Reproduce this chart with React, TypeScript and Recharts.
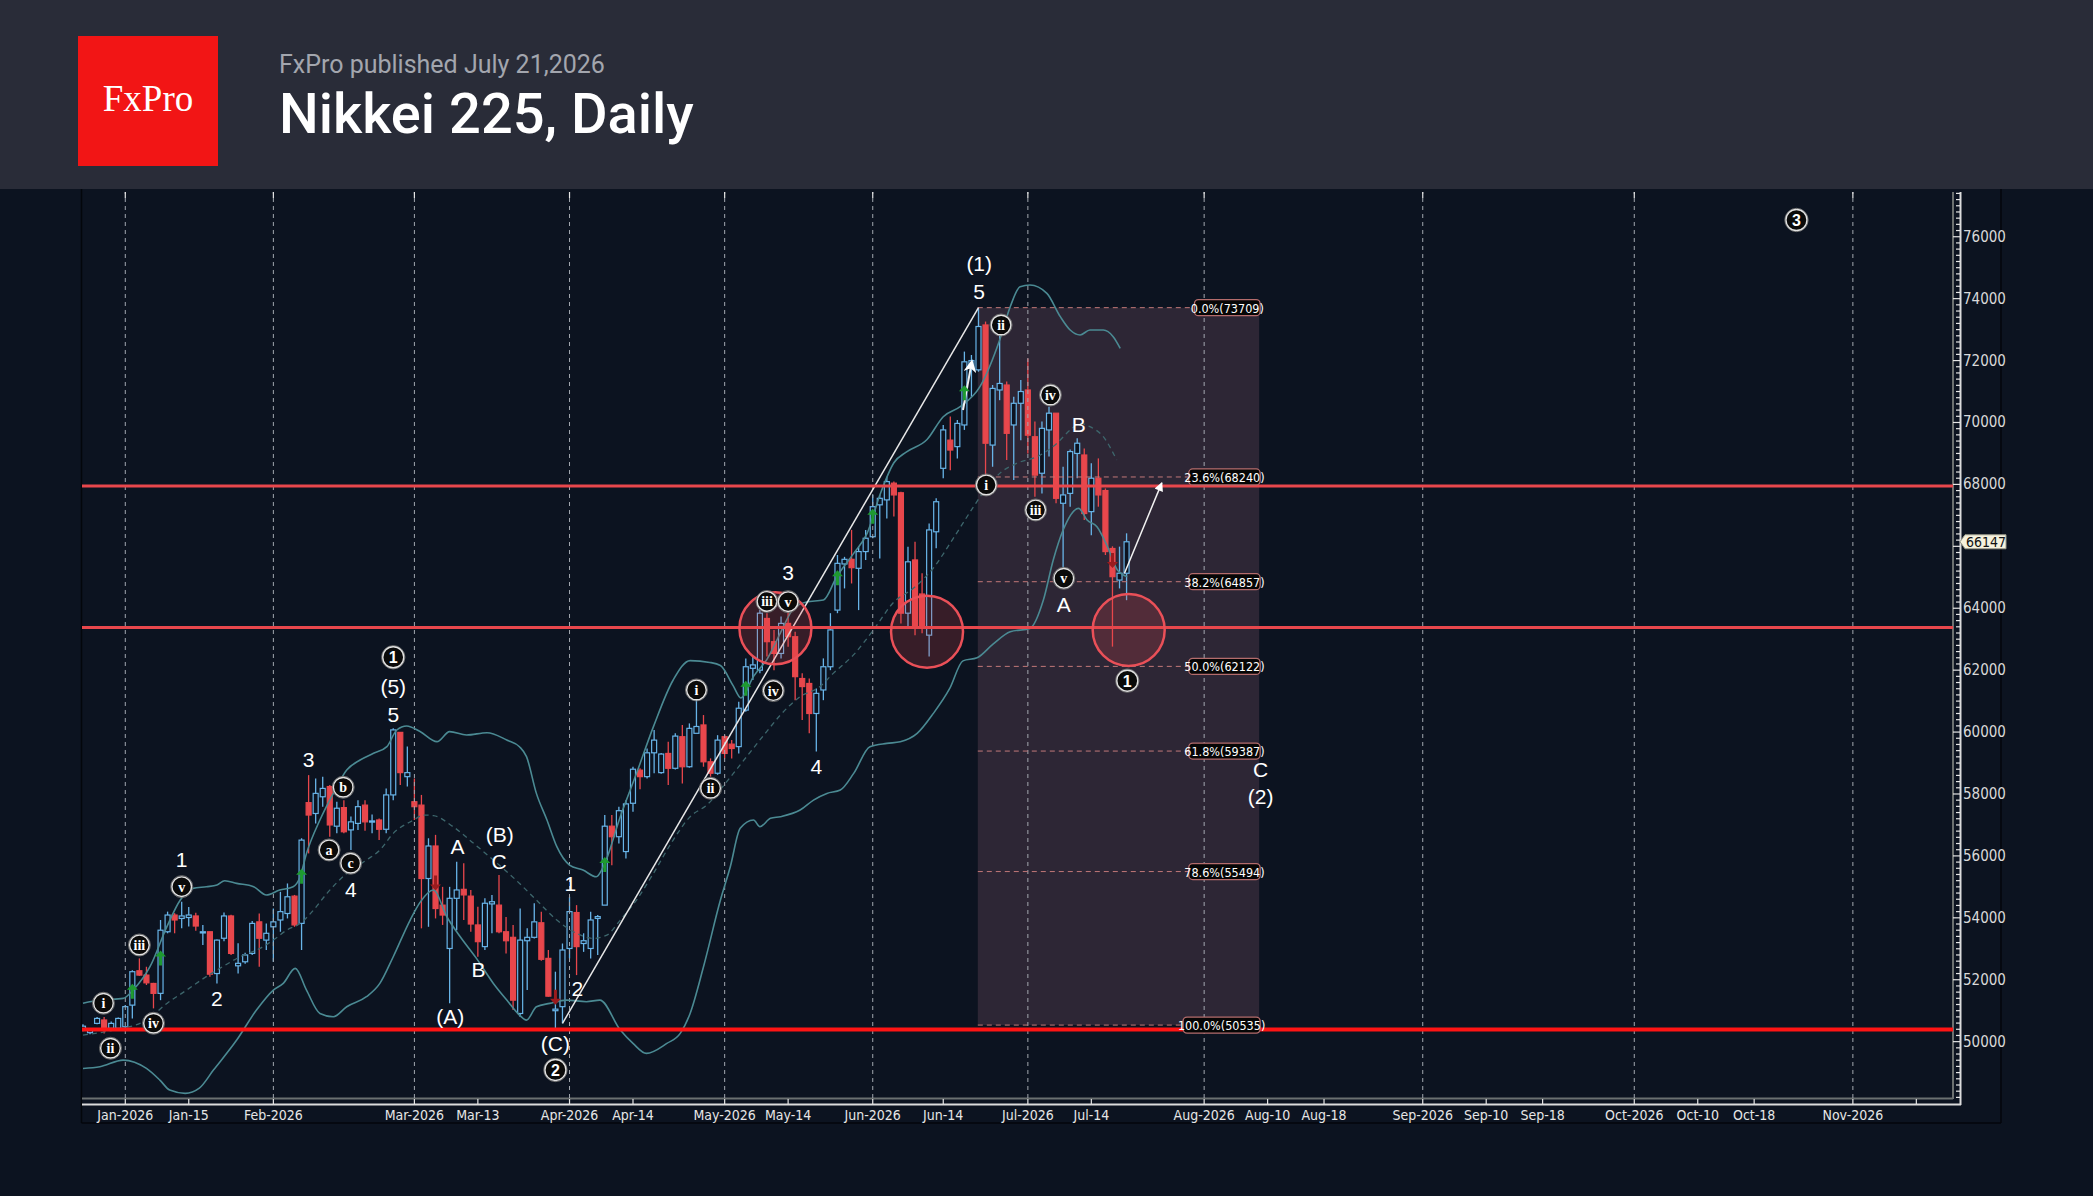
import React from 'react';
import {
  ComposedChart, Bar, Line, XAxis, YAxis, ReferenceLine, ReferenceArea, ReferenceDot, Scatter,
} from 'recharts';

// ---------- data ----------
const opens = [
  50400, 50290, 50590, 50700, 50430, 50430, 50480, 51180, 52290, 52150,
  51880, 51560, 53550, 54090, 53980, 54010, 54060, 53520, 53550, 52200,
  53340, 54060, 52450, 52580, 52850, 53870, 53280, 53710, 53930, 54140,
  54700, 53820, 57720, 57370, 57910, 58240, 56960, 57560, 56840, 57050,
  57640, 57100, 57160, 56860, 57970, 59990, 58560, 57750, 57640, 55270,
  56320, 54410, 53010, 54630, 54920, 54700, 53770, 53070, 54450, 54410,
  53550, 53370, 50910, 53260, 53370, 53840, 52690, 51000, 51130, 53010,
  54170, 53170, 53010, 53980, 54410, 56960, 56620, 56140, 57700, 58770,
  58560, 59330, 58690, 59310, 58830, 59850, 58880, 59960, 60230, 59040,
  58670, 59850, 59610, 59530, 60710, 62060, 62000, 63670, 62920, 62540,
  63510, 63080, 61730, 61570, 60600, 61360, 62110, 63940, 65430, 65580,
  65290, 65830, 66310, 67340, 67500, 68040, 67730, 63840, 65560, 64460,
  63130, 66470, 68520, 69430, 69220, 69920, 71750, 71700, 73150, 69270,
  71050, 71210, 69920, 70620, 71050, 69540, 68360, 69760, 70300, 67390,
  67710, 69000, 68950, 67120, 68200, 67800, 65930, 64910, 65130,
];
const highs = [
  50560, 50430, 50800, 50800, 50650, 50780, 51180, 52310, 52690, 52420,
  51900, 53930, 54200, 54150, 54520, 54350, 54165, 53770, 53560, 53300,
  54170, 54100, 53175, 52870, 53900, 54140, 53820, 54300, 54840, 55110,
  54740, 56570, 58610, 58500, 58560, 58290, 57750, 57800, 57270, 57800,
  57800, 57340, 57210, 58180, 60120, 60000, 59530, 58500, 57970, 56570,
  56680, 55000, 55000, 55810, 55760, 54900, 54360, 54630, 54740, 55380,
  54030, 53770, 54300, 53660, 54470, 54200, 52960, 52260, 53170, 54680,
  54410, 53500, 54200, 54090, 57320, 57320, 57590, 57800, 58880, 58830,
  59470, 60070, 59320, 59690, 59960, 60230, 60280, 61300, 60550, 59150,
  59900, 59900, 59740, 60980, 62380, 62440, 63940, 63840, 63300, 63730,
  63890, 63240, 61900, 61730, 61410, 62380, 63840, 65720, 65660, 66530,
  65990, 66530, 67660, 67660, 68250, 68090, 67760, 65990, 66150, 65130,
  66740, 67550, 69920, 70190, 70080, 72290, 72180, 73709, 73260, 71210,
  72880, 71320, 70830, 71370, 72070, 70030, 70030, 70510, 70300, 68570,
  69130, 69490, 69160, 68680, 68840, 67870, 66000, 65990, 66420,
];
const lows = [
  50340, 50240, 50560, 50260, 50380, 50400, 50450, 50750, 52120, 51830,
  51075, 51340, 53500, 53500, 53660, 53720, 53580, 53120, 52100, 51880,
  53240, 52800, 52200, 52520, 52800, 52420, 52960, 52580, 53550, 53980,
  53710, 52960, 56080, 57050, 57590, 56620, 56730, 56730, 56190, 56840,
  56810, 56730, 56510, 56730, 57800, 58290, 58240, 57160, 53660, 53710,
  53980, 53770, 51240, 53600, 53930, 53550, 52740, 52960, 53500, 53500,
  52850, 51020, 50800, 51670, 53330, 52610, 51450, 50430, 50590, 52690,
  52150, 52900, 52690, 52800, 54410, 55700, 56400, 55920, 57430, 58150,
  58500, 58670, 58650, 58290, 58790, 58340, 58850, 59960, 58880, 58560,
  58620, 59150, 59150, 59310, 60660, 61680, 61900, 62440, 62000, 62380,
  62760, 61030, 60390, 59960, 59370, 61030, 62000, 63840, 64640, 64800,
  63940, 65560, 66260, 65610, 66900, 66960, 63510, 63400, 63130, 63190,
  62440, 65940, 68200, 68460, 68840, 69760, 70830, 71640, 68300, 68570,
  70720, 68790, 68140, 69430, 69000, 67600, 67710, 68900, 67390, 65290,
  67280, 68200, 66850, 66360, 67280, 65720, 62760, 64640, 64260,
];
const closes = [
  50500, 50370, 50750, 50430, 50590, 50750, 51130, 52260, 52150, 51900,
  51560, 53600, 54090, 53930, 54060, 54090, 53735, 53550, 52180, 53280,
  54060, 52850, 52530, 52800, 53820, 53340, 53500, 53870, 54200, 54680,
  53770, 56510, 57320, 58020, 58180, 57000, 57540, 56780, 57100, 57590,
  57100, 57130, 56860, 57970, 60070, 58690, 58690, 57590, 55270, 56320,
  54300, 54090, 54630, 54900, 54740, 53800, 53230, 54470, 54520, 53550,
  53260, 51340, 53280, 53370, 53870, 52660, 51470, 51050, 52960, 54200,
  53070, 53260, 53930, 54040, 56960, 56620, 57460, 57680, 58800, 58560,
  59330, 59740, 59290, 58830, 59870, 58880, 60120, 60180, 59040, 58670,
  59740, 59310, 59470, 60770, 62110, 62170, 63840, 62920, 62540, 63510,
  63080, 61790, 61470, 60600, 61250, 62110, 63300, 65450, 65580, 65310,
  65830, 66260, 67280, 67550, 68090, 67660, 63840, 65500, 63400, 63400,
  66530, 67440, 69760, 69110, 69970, 71960, 72000, 73100, 69330, 71100,
  71260, 69650, 70620, 71000, 69590, 68300, 69810, 70300, 67550, 67660,
  69060, 69330, 67060, 68200, 67660, 65830, 65020, 65130, 66147,
];

const upperBand = [
  [0, 51240], [2.4, 51343], [5.7, 51397], [7.1, 51666], [9.5, 52420], [11.9, 53713], [13.8, 54574],
  [15.6, 54951], [17.5, 55005], [19, 55059], [20.1, 55199], [21.8, 55113], [24.2, 55005], [26, 54736],
  [27.9, 54897], [29.8, 55005], [30.8, 55328], [31.7, 56082], [33.6, 57159], [35.5, 58021], [37.4, 58775],
  [39.3, 59098], [41.2, 59313], [43.1, 59528], [44.5, 60067], [45.9, 60196], [47.8, 60020], [50.2, 59690],
  [52, 60013], [54.4, 59905], [57.3, 59980], [60.1, 59744], [61.9, 59528], [62.9, 59205], [64.3, 58020],
  [65.8, 57159], [67.2, 56297], [69, 55705], [70.9, 55543], [72.8, 55328], [73.8, 55651], [76.2, 57267],
  [78.5, 58667], [80.9, 60175], [83.7, 61682], [86.1, 62307], [88.9, 62250], [90.4, 62150], [92.2, 61500],
  [93.3, 61100], [95.1, 61800], [97, 62350], [98.9, 63200], [100.8, 64000], [102.6, 64200], [105, 64265],
  [106.9, 65019], [109.3, 65773], [111.2, 66419], [113.1, 67712], [115, 68700], [116.8, 69050], [119.7, 69450],
  [122, 70187], [124.4, 70510], [127.2, 71156], [130, 72664], [131.5, 73741], [132.9, 74387], [134.3, 74441],
  [136.7, 74172], [138.6, 73418], [140, 72987], [141.4, 72826], [142.8, 72987], [144.7, 72987], [146.1, 72772],
  [147.1, 72395],
];
const middleBand = [
  [0, 50212], [4.3, 50374], [9, 50697], [11.9, 51235], [14.7, 51666], [17.1, 52043], [19.4, 52366],
  [22.3, 52744], [25.1, 53013], [27, 53282], [28.9, 53605], [30.8, 53820], [32.7, 54251], [34.6, 54790],
  [37.4, 55436], [40.2, 55867], [42.1, 56190], [44, 56728], [46.9, 57159], [48.3, 57320], [49.7, 57300],
  [52.5, 56943], [55.4, 56405], [58.2, 55866], [61.4, 55220], [64.3, 54574], [67.2, 53928], [70, 53497],
  [72.4, 53336], [74.3, 53443], [76.2, 53928], [78.5, 54574], [80.9, 55436], [83.7, 56513], [86.1, 57267],
  [88.5, 57650], [91.3, 58400], [94.1, 59200], [96.9, 60000], [98.9, 60550], [101.7, 61142], [104.5, 61465],
  [106.4, 61896], [109.3, 62500], [112.1, 63300], [115, 64200], [117.8, 64650], [120.6, 65300], [123.4, 66250],
  [126.3, 67281], [127.7, 67750], [130, 68356], [132.4, 68680], [135.3, 68895], [138.1, 69325], [140, 69756],
  [141.4, 69972], [142.8, 69864], [144.7, 69541], [146.6, 68787],
];
const lowerBand = [
  [0, 49135], [2.4, 49189], [5.7, 49405], [9, 49135], [10.9, 48758], [12.3, 48436], [14.5, 48330],
  [16.5, 48500], [18.5, 49082], [21.8, 50051], [24.6, 51020], [27, 51666], [28.4, 51882], [30.1, 52366],
  [31.7, 51666], [33.6, 50912], [35.5, 50805], [37.4, 51128], [40.2, 51451], [42.1, 51882], [44, 52743],
  [46.4, 53928], [47.8, 54500], [49.7, 54897], [51.6, 54035], [53.5, 53389], [55.8, 52689], [58.2, 51881],
  [60.1, 51343], [61.9, 50858], [62.9, 50697], [64.3, 51128], [66.2, 51236], [68.6, 51343], [71.4, 51290],
  [73.3, 51343], [76.2, 50374], [78, 49943], [79.9, 49620], [82.8, 49943], [84.7, 50266], [86.1, 50912],
  [88, 52420], [90.4, 54574], [91.8, 55651], [93.2, 56890], [95.1, 57159], [96, 56943], [97.5, 57213],
  [98.9, 57267], [101.7, 57481], [103.6, 57804], [105.5, 58019], [107.4, 58127], [109.3, 58665], [111.6, 59527],
  [114, 59634], [115.9, 59688], [118.3, 59957], [120.6, 60604], [122.9, 61400], [124.8, 62300], [126.8, 62400],
  [129.1, 62850], [131.5, 63240], [134.3, 63348], [136.2, 64264], [137.6, 65556], [139, 66525], [141.2, 67225],
  [142.4, 66848], [143.8, 66633], [145.3, 65986], [146.7, 65233], [148.1, 65018],
];

const xTickIdx = [6, 15, 27, 47, 56, 69, 78, 91, 100, 112, 122, 134, 143, 159, 168, 176, 190, 199, 207, 220, 229, 237, 251, 260];
const xTickLabels = ['Jan-2026', 'Jan-15', 'Feb-2026', 'Mar-2026', 'Mar-13', 'Apr-2026', 'Apr-14', 'May-2026', 'May-14',
  'Jun-2026', 'Jun-14', 'Jul-2026', 'Jul-14', 'Aug-2026', 'Aug-10', 'Aug-18', 'Sep-2026', 'Sep-10', 'Sep-18',
  'Oct-2026', 'Oct-10', 'Oct-18', 'Nov-2026', ''];
const monthIdx = [6, 27, 47, 69, 91, 112, 134, 159, 190, 220, 251];

const fibPct = ['0.0%', '23.6%', '38.2%', '50.0%', '61.8%', '78.6%', '100.0%'];
const fibVal = [73709, 68240, 64857, 62122, 59387, 55494, 50535];
const fibStart = 126.9;
const fibEnd = 166.8;

const zoneLevels = [67950, 63380];
const baseLevel = 50390;
const zoneCircles = [[98.2, 63353], [119.7, 63243], [148.3, 63297]];

const waveLine = [[68, 50589], [127, 73709]];
const targetArrow = [[147.7, 65130], [153, 68050]];
const pushArrow = [[124.8, 70404], [126.05, 71957]];
const lastPrice = 66147;

// signals: [i, v, dir]
const signals = [
  [7, 51612, 1], [11, 52690, 1], [31, 55328, 1], [74, 55705, 1], [94, 61400, 1], [107, 64965, 1],
  [112, 66958, 1], [125, 70941, 1], [50, 55140, -1], [67, 51450, -1], [146, 65560, -1],
];

// annotations: [i, v, text, kind]  kind: p=plain, r=roman circled, n=number circled
const annotations: [number, number, string, string][] = [
  [14, 55869, '1', 'p'], [19, 51402, '2', 'p'], [32, 59099, '3', 'p'], [38, 54900, '4', 'p'],
  [44, 60575, '5', 'p'], [44, 61467, '(5)', 'p'], [53.1, 56299, 'A', 'p'], [59.1, 56676, '(B)', 'p'],
  [59, 55814, 'C', 'p'], [56.1, 52316, 'B', 'p'], [52.1, 50808, '(A)', 'p'], [69.1, 55116, '1', 'p'],
  [70.1, 51725, '2', 'p'], [67, 49948, '(C)', 'p'], [100, 65149, '3', 'p'], [104, 58883, '4', 'p'],
  [127.1, 75142, '(1)', 'p'], [127.1, 74227, '5', 'p'], [141.2, 69920, 'B', 'p'], [139.1, 64106, 'A', 'p'],
  [167, 58800, 'C', 'p'], [167, 57935, '(2)', 'p'],
  [2.9, 51240, 'i', 'r'], [3.9, 49787, 'ii', 'r'], [8.0, 53123, 'iii', 'r'], [10, 50594, 'iv', 'r'],
  [14, 55007, 'v', 'r'], [34.9, 56192, 'a', 'r'], [36.9, 58217, 'b', 'r'], [37.96, 55763, 'c', 'r'],
  [87, 61360, 'i', 'r'], [89, 58185, 'ii', 'r'], [97, 64220, 'iii', 'r'], [97.9, 61340, 'iv', 'r'],
  [100, 64213, 'v', 'r'], [128.1, 67982, 'i', 'r'], [130.2, 73149, 'ii', 'r'], [135.1, 67174, 'iii', 'r'],
  [137.2, 70888, 'iv', 'r'], [139.1, 64967, 'v', 'r'],
  [44, 62416, '1', 'n'], [67, 49086, '2', 'n'], [148.1, 61660, '1', 'n'], [243, 76541, '3', 'n'],
];

// ---------- built tables ----------
const candles = opens.map((o, i) => ({ i, o, h: highs[i], l: lows[i], c: closes[i] }));
const toPts = (arr: number[][]) => arr.map(([i, v]) => ({ i, v }));
const upperData = toPts(upperBand);
const middleData = toPts(middleBand);
const lowerData = toPts(lowerBand);
const signalData = signals.map(([i, v, d]) => ({ i, v, d }));
const labelData = annotations.map(([i, v, t, k]) => ({ i, v, t, k }));
const yTicks: number[] = [];
for (let t = 48200; t <= 77400; t += 200) yTicks.push(t);

// ---------- styles ----------
const BG = '#0c1320';
const UP = '#68b4e8';
const DN = '#e8474c';
const BAND = '#4b8a93';
const NARROW = '"Liberation Sans Narrow", "Arial Narrow", "DejaVu Sans Condensed", sans-serif';
const SANS = '"Liberation Sans", Arial, sans-serif';
const SERIF = '"Liberation Serif", "Times New Roman", serif';
const BODY_HALF = 2.5;

function Candle(props: any) {
  const { x, y, width, height, payload } = props;
  if (!payload || height == null) return null;
  const { o, h, l, c } = payload;
  const k = height / (h - l);
  const yO = y + (h - o) * k;
  const yC = y + (h - c) * k;
  const up = c >= o;
  const col = up ? UP : DN;
  const cx = x + width / 2;
  const top = Math.min(yO, yC);
  const bot = Math.max(yO, yC);
  return (
    <g>
      <line x1={cx} x2={cx} y1={y} y2={top} stroke={col} strokeWidth={1.3} />
      <line x1={cx} x2={cx} y1={bot} y2={y + height} stroke={col} strokeWidth={1.3} />
      <rect x={cx - BODY_HALF} y={top} width={BODY_HALF * 2} height={Math.max(bot - top, 1.2)}
        fill={up ? BG : col} stroke={col} strokeWidth={1.2} />
    </g>
  );
}

function XTick(props: any) {
  const { x, payload } = props;
  const k = xTickIdx.indexOf(payload.value);
  const label = k >= 0 ? xTickLabels[k] : '';
  const isMonth = monthIdx.includes(payload.value);
  return (
    <g>
      <line x1={x} x2={x} y1={1099} y2={1104} stroke="#e6e6e6" strokeWidth={1.2} />
      {isMonth && <line x1={x} x2={x} y1={192} y2={198} stroke="#e6e6e6" strokeWidth={1.2} />}
      <text x={x} y={1115} textAnchor="middle" dominantBaseline="central" fontSize={14}
        fill="#e6e6e6" fontFamily={NARROW}>{label}</text>
    </g>
  );
}

function YTick(props: any) {
  const { y, payload } = props;
  const v = payload.value;
  const major = v % 2000 === 0;
  const hidden = Math.abs(v - lastPrice) < 700;
  return (
    <g>
      <line x1={major ? 1953 : 1956} x2={1960} y1={y} y2={y} stroke="#e6e6e6" strokeWidth={1.2} />
      {major && !hidden && (
        <text x={1963} y={y} dominantBaseline="central" fontSize={15} fill="#d9d9d9" fontFamily={NARROW}>{v}</text>
      )}
    </g>
  );
}

function SignalShape(props: any) {
  const { cx, cy, payload } = props;
  if (cx == null) return null;
  const s = payload.d > 0 ? 1 : -1;
  const col = payload.d > 0 ? '#1e9a31' : '#9a1b1e';
  const d = `M${cx} ${cy - 8 * s} L${cx + 5.5} ${cy - 2 * s} L${cx + 1.5} ${cy - 2 * s} L${cx + 1.5} ${cy + 7 * s} `
    + `L${cx - 1.5} ${cy + 7 * s} L${cx - 1.5} ${cy - 2 * s} L${cx - 5.5} ${cy - 2 * s} Z`;
  return <path d={d} fill={col} />;
}

function LabelShape(props: any) {
  const { cx, cy, payload } = props;
  if (cx == null) return null;
  const { t, k } = payload;
  if (k === 'p') {
    return (
      <text x={cx} y={cy} textAnchor="middle" dominantBaseline="central" fontSize={21}
        fill="#ffffff" fontFamily={SANS}>{t}</text>
    );
  }
  const r = k === 'n' ? 10.5 : 9.8;
  return (
    <g>
      <circle cx={cx} cy={cy} r={r + 1.2} fill="none" stroke="#6f6f6f" strokeWidth={1} />
      <circle cx={cx} cy={cy} r={r} fill="#0a0a0a" stroke="#e2e2e2" strokeWidth={1.4} />
      <text x={cx} y={cy + 0.5} textAnchor="middle" dominantBaseline="central"
        fontSize={k === 'n' ? 16 : 14} fontWeight="bold" fill="#ffffff"
        fontFamily={k === 'n' ? SANS : SERIF}>{t}</text>
    </g>
  );
}

function FibTag(props: any) {
  const { cx, cy, text } = props;
  if (cx == null) return null;
  const w = text.length * 5.7 + 3;
  return (
    <g>
      <rect x={cx - w + 1} y={cy - 8} width={w} height={16} rx={4} fill="#060606" stroke="#b46c6c" strokeWidth={1.3} />
      <text x={cx - w / 2 + 1} y={cy + 0.5} textAnchor="middle" dominantBaseline="central" fontSize={12.5}
        fill="#ffffff" fontFamily={NARROW}>{text}</text>
    </g>
  );
}

function PriceTag(props: any) {
  const { cx, cy } = props;
  if (cx == null) return null;
  const x0 = cx + 7;
  return (
    <g>
      <path d={`M${x0} ${cy} L${x0 + 5} ${cy - 7} L${x0 + 46} ${cy - 7} L${x0 + 46} ${cy + 7} L${x0 + 5} ${cy + 7} Z`}
        fill="#f6f2de" stroke="#9a9a8a" strokeWidth={1} />
      <text x={x0 + 26} y={cy + 0.5} textAnchor="middle" dominantBaseline="central" fontSize={14}
        fill="#111" fontFamily={NARROW}>{lastPrice}</text>
    </g>
  );
}

export default function App() {
  return (
    <div style={{ position: 'relative', width: 2093, height: 1196, background: BG, overflow: 'hidden' }}>
      <style>{'html,body{margin:0;padding:0;background:#0c1320;}'}</style>
      <svg width={0} height={0} style={{ position: 'absolute' }}>
        <defs>
          <marker id="arrowSmall" viewBox="0 0 10 10" refX="9" refY="5" markerWidth="11" markerHeight="9"
            markerUnits="userSpaceOnUse" orient="auto">
            <path d="M0,0 L10,5 L0,10 z" fill="#ffffff" />
          </marker>
          <marker id="arrowBig" viewBox="0 0 10 10" refX="8" refY="5" markerWidth="16" markerHeight="13"
            markerUnits="userSpaceOnUse" orient="auto">
            <path d="M0,0 L10,5 L0,10 L3,5 z" fill="#ffffff" />
          </marker>
        </defs>
      </svg>

      <svg width={2093} height={1196} style={{ position: 'absolute', left: 0, top: 0 }}>
        <rect x={0} y={0} width={2093} height={189} fill="#292c38" />
        <rect x={78} y={36} width={140} height={130} fill="#f21515" />
        <text x={148} y={111} textAnchor="middle" fontSize={37} fill="#ffffff" fontFamily={SERIF}>FxPro</text>
        <text x={279} y={73} fontSize={25} fill="#a3a6ae" fontFamily="Roboto, sans-serif">FxPro published July 21,2026</text>
        <text x={279} y={133} fontSize={56} fontWeight={500} fill="#ffffff" fontFamily="Roboto, sans-serif">Nikkei 225, Daily</text>
        {/* frame */}
        <line x1={81.5} y1={189} x2={81.5} y2={1123} stroke="#03060b" strokeWidth={1.5} />
        <line x1={81.5} y1={1123} x2={2001} y2={1123} stroke="#03060b" strokeWidth={1.5} />
        <line x1={2001} y1={189} x2={2001} y2={1123} stroke="#03060b" strokeWidth={1.5} />
        <line x1={82} y1={1098.5} x2={1953} y2={1098.5} stroke="#6b7070" strokeWidth={2} />
        <line x1={1953} y1={192} x2={1953} y2={1099} stroke="#6b7070" strokeWidth={2} />
        <line x1={82} y1={1104.5} x2={1961} y2={1104.5} stroke="#dcdcdc" strokeWidth={2} />
        <line x1={1960.5} y1={192} x2={1960.5} y2={1105} stroke="#dcdcdc" strokeWidth={2} />
      </svg>

      <div style={{ position: 'absolute', left: 0, top: 0 }}>
        <ComposedChart width={2093} height={1196} data={candles}
          margin={{ top: 192, right: 0, bottom: 0, left: 82 }}>
          <XAxis type="number" dataKey="i" domain={[-0.14, 265.2]} allowDataOverflow ticks={xTickIdx}
            interval={0} tick={XTick} tickLine={false} axisLine={false} height={98} />
          <YAxis orientation="right" type="number" domain={[48180, 77445]} allowDataOverflow ticks={yTicks}
            interval={0} tick={YTick} tickLine={false} axisLine={false} width={140} />

          <ReferenceArea x1={fibStart} x2={fibEnd} y1={fibVal[6]} y2={fibVal[0]}
            fill="rgb(200,130,150)" fillOpacity={0.18} stroke="none" />
          {monthIdx.map((m) => (
            <ReferenceLine key={'m' + m} x={m} stroke="#a3a8b0" strokeDasharray="4 4" strokeWidth={1} />
          ))}
          {fibVal.map((v, k) => (
            <ReferenceLine key={'f' + k} segment={[{ x: fibStart, y: v }, { x: fibEnd, y: v }]}
              stroke="#c27878" strokeDasharray="5 4" strokeWidth={1} />
          ))}

          <Line data={upperData} dataKey="v" type="monotone" stroke={BAND} strokeWidth={1.6} dot={false}
            isAnimationActive={false} />
          <Line data={middleData} dataKey="v" type="monotone" stroke="#3d666c" strokeWidth={1.3}
            strokeDasharray="5 4" dot={false} isAnimationActive={false} />
          <Line data={lowerData} dataKey="v" type="monotone" stroke={BAND} strokeWidth={1.6} dot={false}
            isAnimationActive={false} />

          <Bar dataKey={(d: any) => [d.l, d.h]} barSize={6} shape={Candle} isAnimationActive={false} />

          <ReferenceLine segment={[{ x: waveLine[0][0], y: waveLine[0][1] }, { x: waveLine[1][0], y: waveLine[1][1] }]}
            stroke="#e8e8e8" strokeWidth={1.5} />

          {zoneLevels.map((v) => (
            <ReferenceLine key={'z' + v} y={v} stroke={DN} strokeWidth={3} />
          ))}
          <ReferenceLine y={baseLevel} stroke="#ff1414" strokeWidth={4} />

          {zoneCircles.map(([i, v], k) => (
            <ReferenceDot key={'c' + k} x={i} y={v} r={36} fill={DN} fillOpacity={0.2}
              stroke="#ea5058" strokeWidth={2.5} ifOverflow="visible" />
          ))}

          {fibVal.map((v, k) => (
            <ReferenceDot key={'ft' + k} x={fibEnd} y={v} r={1} ifOverflow="visible"
              shape={(p: any) => <FibTag cx={p.cx} cy={p.cy} text={`${fibPct[k]}(${v})`} />} />
          ))}

          <ReferenceLine segment={[{ x: targetArrow[0][0], y: targetArrow[0][1] }, { x: targetArrow[1][0], y: targetArrow[1][1] }]}
            stroke="#f2f2f2" strokeWidth={1.5} markerEnd="url(#arrowSmall)" />
          <ReferenceLine segment={[{ x: pushArrow[0][0], y: pushArrow[0][1] }, { x: pushArrow[1][0], y: pushArrow[1][1] }]}
            stroke="#f2f2f2" strokeWidth={2} markerEnd="url(#arrowBig)" />

          <Scatter data={signalData} dataKey="v" shape={SignalShape} isAnimationActive={false} />
          <Scatter data={labelData} dataKey="v" shape={LabelShape} isAnimationActive={false} />

          <ReferenceDot x={265.2} y={lastPrice} r={1} ifOverflow="visible"
            shape={(p: any) => <PriceTag cx={p.cx} cy={p.cy} />} />
        </ComposedChart>
      </div>
    </div>
  );
}
